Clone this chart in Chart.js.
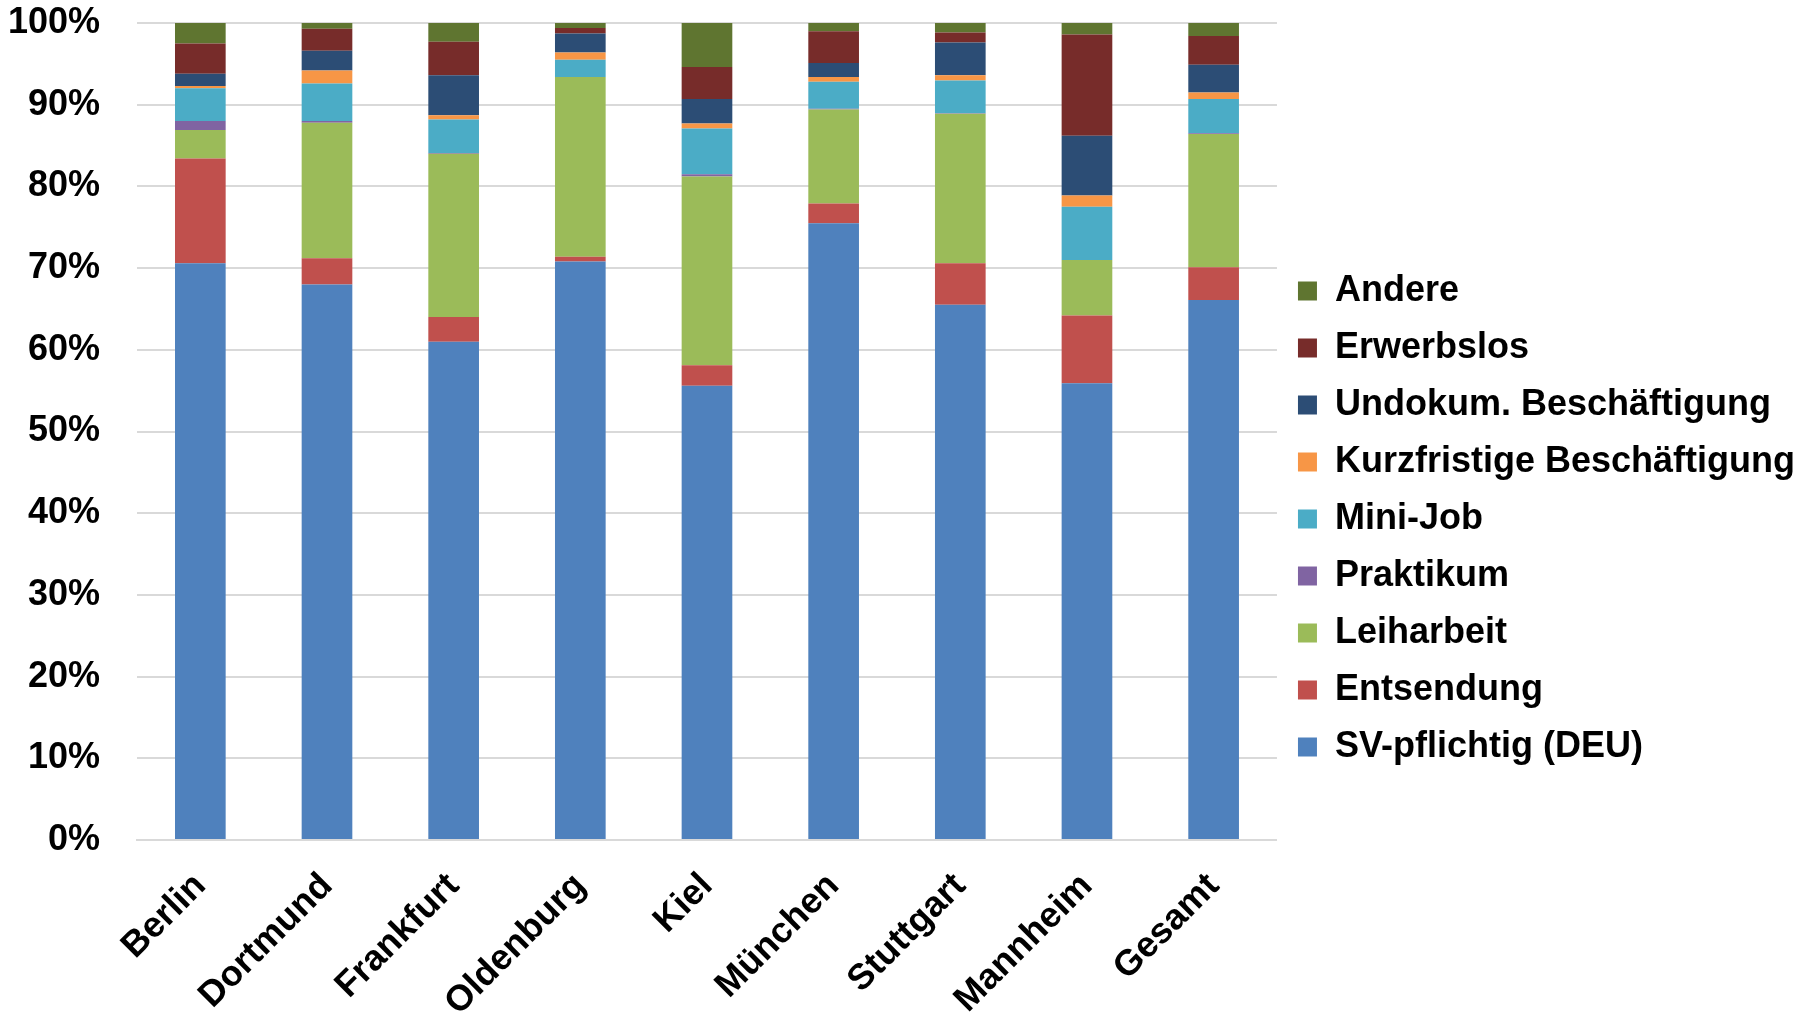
<!DOCTYPE html>
<html>
<head>
<meta charset="utf-8">
<title>Beschäftigungsformen nach Standort</title>
<script src="https://cdn.jsdelivr.net/npm/chart.js@4.4.1/dist/chart.umd.min.js"></script>
<style>
  body { margin: 0; background: #ffffff; }
</style>
</head>
<body>
<canvas id="myChart" width="1815" height="1015"></canvas>
<script>
// Categories (Standorte)
const cities = ['Berlin', 'Dortmund', 'Frankfurt', 'Oldenburg', 'Kiel', 'München', 'Stuttgart', 'Mannheim', 'Gesamt'];

// Shares in percent
const svPflichtig = [70.6, 68.0, 61.0, 70.8, 55.6, 75.5, 65.5, 55.9, 66.1];
const entsendung  = [12.8, 3.2, 3.0, 0.6, 2.5, 2.4, 5.1, 8.3, 4.0];
const leiharbeit  = [3.5, 16.6, 20.0, 22.0, 23.1, 11.5, 18.3, 6.8, 16.3];
const praktikum   = [1.1, 0.2, 0.1, 0.0, 0.3, 0.1, 0.05, 0.0, 0.1];
const miniJob     = [4.0, 4.6, 4.1, 2.1, 5.6, 3.3, 4.0, 6.5, 4.2];
const kurzfristig = [0.3, 1.6, 0.5, 0.9, 0.6, 0.6, 0.65, 1.4, 0.8];
const undokum     = [1.5, 2.4, 4.9, 2.3, 3.0, 1.7, 4.0, 7.3, 3.4];
const erwerbslos  = [3.7, 2.7, 4.1, 0.7, 3.9, 3.9, 1.25, 12.4, 3.5];
const andere      = [2.5, 0.7, 2.3, 0.6, 5.4, 1.0, 1.15, 1.4, 1.6];

// Y axis ticks
const yTicks = [0, 10, 20, 30, 40, 50, 60, 70, 80, 90, 100];

const font = { family: "'Liberation Sans', Arial, sans-serif", weight: 'bold', size: 36 };

function series(label, data, color) {
  return {
    label: label,
    data: data,
    backgroundColor: color,
    borderWidth: 0,
    categoryPercentage: 0.8,
    barPercentage: 0.5
  };
}

const data = {
  labels: cities,
  datasets: [
    series('SV-pflichtig (DEU)', svPflichtig, '#4F81BD'),
    series('Entsendung', entsendung, '#C0504D'),
    series('Leiharbeit', leiharbeit, '#9BBB59'),
    series('Praktikum', praktikum, '#8064A2'),
    series('Mini-Job', miniJob, '#4BACC6'),
    series('Kurzfristige Beschäftigung', kurzfristig, '#F79646'),
    series('Undokum. Beschäftigung', undokum, '#2C4D75'),
    series('Erwerbslos', erwerbslos, '#772C2A'),
    series('Andere', andere, '#5F7530')
  ]
};

const config = {
  type: 'bar',
  data,
  options: {
    responsive: false,
    animation: false,
    layout: {
      padding: { top: 23, left: 9, right: 10, bottom: 0 }
    },
    scales: {
      x: {
        stacked: true,
        grid: { display: false, drawTicks: false },
        border: { display: true, color: '#d9d9d9', width: 2 },
        ticks: {
          color: '#000000',
          font: font,
          minRotation: 45,
          maxRotation: 45,
          padding: 25
        },
        afterFit: (scale) => { scale.height = 175; }
      },
      y: {
        stacked: true,
        min: 0,
        max: 100,
        afterBuildTicks: (scale) => {
          scale.ticks = yTicks.map(v => ({ value: v }));
        },
        grid: {
          color: '#d9d9d9',
          lineWidth: 2,
          drawTicks: true,
          tickLength: 37,
          tickColor: 'rgba(0,0,0,0)'
        },
        border: { display: false },
        ticks: {
          color: '#000000',
          font: font,
          padding: 0,
          callback: (v) => v + '%'
        },
        afterFit: (scale) => { scale.width = 128; }
      }
    },
    plugins: {
      legend: {
        position: 'right',
        reverse: true,
        maxWidth: 560,
        labels: {
          color: '#000000',
          font: font,
          boxWidth: 19,
          boxHeight: 19,
          padding: 21
        }
      },
      tooltip: { enabled: false }
    }
  }
};

const barChart = new Chart(document.getElementById('myChart'), config);
</script>
</body>
</html>
